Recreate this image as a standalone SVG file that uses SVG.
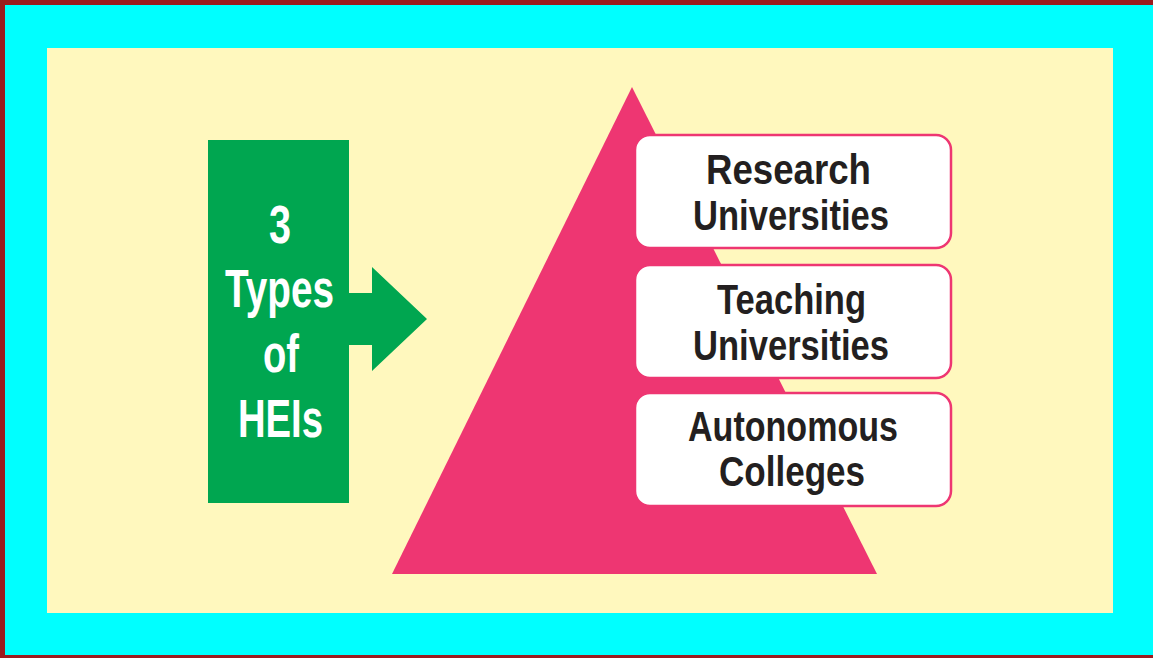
<svg xmlns="http://www.w3.org/2000/svg" width="1153" height="658" viewBox="0 0 1153 658">
<style>
.lbl{font-family:"Liberation Sans",Arial,sans-serif;font-weight:bold;text-anchor:middle}
.box{fill:#ffffff;stroke:#ee3672;stroke-width:2.5}
.dark{fill:#231f20;font-size:42px}
.white{fill:#ffffff;font-size:53px}
</style>
<rect x="0" y="0" width="1153" height="658" fill="#9b1b1e"/>
<rect x="5" y="5" width="1148" height="650" fill="#00ffff"/>
<rect x="47" y="48" width="1066" height="565" fill="#fff8be"/>
<g id="pyramid"><polygon points="632,87 877,574 392,574" fill="#ee3672"/></g>
<g id="connectors"><polygon points="348,293 372,293 372,267 427,319 372,371 372,345 348,345" fill="#00a650"/></g>
<g id="hei">
<rect x="208" y="140" width="141" height="363" fill="#00a650"/>
<text class="lbl white" x="280" y="243" textLength="22" lengthAdjust="spacingAndGlyphs">3</text>
<text class="lbl white" x="279.5" y="307" textLength="109" lengthAdjust="spacingAndGlyphs">Types</text>
<text class="lbl white" x="281" y="372" textLength="36" lengthAdjust="spacingAndGlyphs">of</text>
<text class="lbl white" x="280.5" y="437" textLength="85" lengthAdjust="spacingAndGlyphs">HEIs</text>
</g>
<g id="research">
<rect class="box" x="635" y="135" width="316" height="113" rx="15"/>
<text class="lbl dark" x="788.5" y="184" textLength="165" lengthAdjust="spacingAndGlyphs">Research</text>
<text class="lbl dark" x="791" y="230" textLength="196" lengthAdjust="spacingAndGlyphs">Universities</text>
</g>
<g id="teaching">
<rect class="box" x="635" y="265" width="316" height="113" rx="15"/>
<text class="lbl dark" x="791.5" y="314" textLength="149" lengthAdjust="spacingAndGlyphs">Teaching</text>
<text class="lbl dark" x="791" y="360" textLength="196" lengthAdjust="spacingAndGlyphs">Universities</text>
</g>
<g id="autonomous">
<rect class="box" x="635" y="393" width="316" height="113" rx="15"/>
<text class="lbl dark" x="793" y="441" textLength="210" lengthAdjust="spacingAndGlyphs">Autonomous</text>
<text class="lbl dark" x="792" y="486" textLength="146" lengthAdjust="spacingAndGlyphs">Colleges</text>
</g>
</svg>
